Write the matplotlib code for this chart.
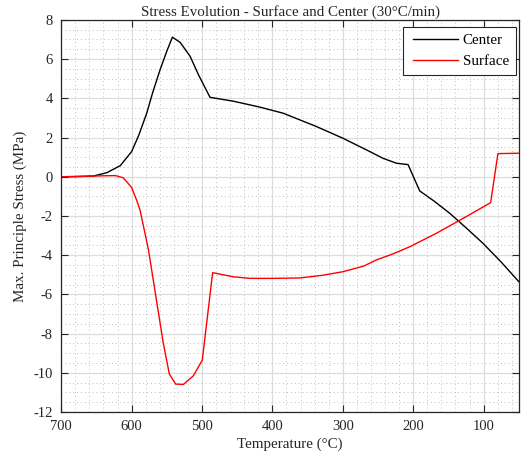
import matplotlib
matplotlib.use("Agg")
import matplotlib.pyplot as plt
from matplotlib.ticker import MultipleLocator
from matplotlib.legend_handler import HandlerLine2D

plt.rcParams['font.family'] = ['Liberation Serif', 'DejaVu Serif']
plt.rcParams['font.size'] = 10.5
plt.rcParams['axes.unicode_minus'] = False

# Center stress vs temperature
center_T = [700, 680, 654, 635, 616, 600, 590, 578.5, 570, 559.6, 550, 542, 531, 517, 505,
            488.6, 455, 417.7, 384.7, 337.4, 299.6, 266.4, 242.8, 223.8, 207.3,
            190.8, 170, 148.2, 125, 101, 75, 50]
center_S = [0.0, 0.01, 0.04, 0.21, 0.57, 1.28, 2.1, 3.24, 4.3, 5.45, 6.4, 7.12, 6.85, 6.15, 5.2,
            4.05, 3.85, 3.55, 3.24, 2.56, 1.96, 1.37, 0.94, 0.69, 0.62,
            -0.72, -1.25, -1.86, -2.6, -3.39, -4.35, -5.35]

# Surface stress vs temperature
surface_T = [700, 670, 640, 623, 612, 607, 600, 593, 588, 576, 564, 554.9, 546.4, 537.4,
             526.5, 512.3, 499.6, 484.9, 455.6, 432, 400, 361, 330, 299.6, 270, 252.2,
             230, 205, 167, 129, 90, 79.7, 50]
surface_S = [0.0, 0.02, 0.05, 0.06, -0.05, -0.25, -0.55, -1.18, -1.7, -3.73, -6.45, -8.5, -10.06, -10.57,
             -10.59, -10.15, -9.35, -4.89, -5.1, -5.18, -5.18, -5.16, -5.03, -4.84, -4.55, -4.24,
             -3.95, -3.57, -2.88, -2.12, -1.32, 1.18, 1.2]

fig, ax = plt.subplots(figsize=(5.23, 4.62), dpi=100)
fig.subplots_adjust(left=0.117, right=0.992, top=0.957, bottom=0.108)

ax.plot(center_T, center_S, color='black', lw=1.0, label='Center')
ax.plot(surface_T, surface_S, color='red', lw=1.0, label='Surface')

ax.set_xlim(700, 50)
ax.set_ylim(-12, 8)
ax.xaxis.set_major_locator(MultipleLocator(100))
ax.xaxis.set_minor_locator(MultipleLocator(20))
ax.yaxis.set_major_locator(MultipleLocator(2))
ax.yaxis.set_minor_locator(MultipleLocator(0.5))

ax.grid(which='major', color='#dcdcdc', lw=0.9, ls='-')
ax.grid(which='minor', color='#c0c0c0', lw=0.7, ls=(0, (1, 3)))
ax.set_axisbelow(True)

ax.tick_params(which='major', direction='in', top=True, right=True, length=5, width=0.8,
               pad=6, colors='#262626', labelcolor='#262626')
ax.tick_params(which='minor', length=0)
for sp in ax.spines.values():
    sp.set_color('#262626')
    sp.set_linewidth(0.9)

ax.set_xlabel('Temperature (°C)', color='#262626', fontsize=10.8, labelpad=3)
ax.set_ylabel('Max. Principle Stress (MPa)', color='#262626', fontsize=10.8, labelpad=5)
ax.set_title('Stress Evolution - Surface and Center (30°C/min)', color='#262626',
             fontsize=10.8, pad=3)

# inset legend lines a little from the frame edge
inset = HandlerLine2D(numpoints=2, marker_pad=0.25)
leg = ax.legend(loc='upper right', bbox_to_anchor=(0.9934, 0.982), borderaxespad=0,
                fancybox=False, framealpha=1, edgecolor='#262626',
                handlelength=3.45, handletextpad=0.1, borderpad=0.45, fontsize=10.8,
                handler_map={matplotlib.lines.Line2D: inset})
leg.get_frame().set_linewidth(0.8)

fig.savefig('out.png', dpi=100)
